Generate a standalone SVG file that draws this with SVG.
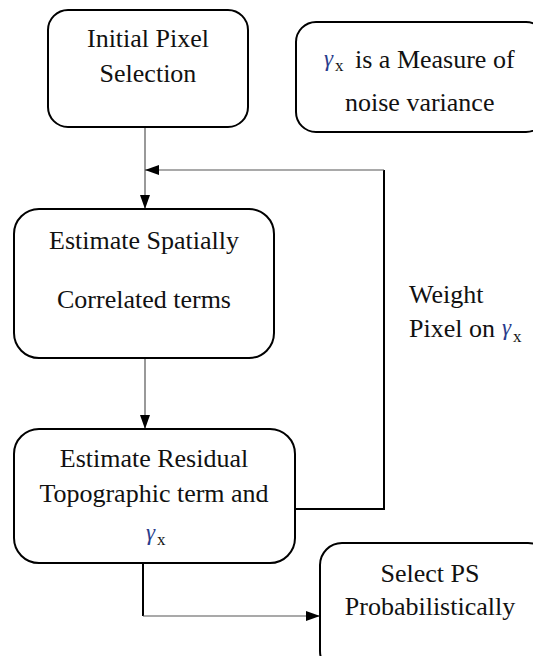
<svg xmlns="http://www.w3.org/2000/svg" width="533" height="656" viewBox="0 0 533 656">
  <style>
    .box { fill: #ffffff; stroke: #000000; stroke-width: 2; }
    .lbl { font-size: 26px; fill: #111111; }
    .mid { text-anchor: middle; }
    .gam { font-style: italic; font-size: 23px; fill: #2a3c8c; }
    .sub { font-size: 17px; fill: #111111; }
    .thin { fill: none; stroke: #555555; stroke-width: 1.2; }
    .thick { fill: none; stroke: #000000; stroke-width: 2; }
  </style>
  <defs>
    <marker id="head" viewBox="0 0 14 10" refX="14" refY="5" markerWidth="14" markerHeight="10" markerUnits="userSpaceOnUse" orient="auto">
      <path d="M0,0 L14,5 L0,10 Z" fill="#000000"/>
    </marker>
  </defs>

  <rect width="533" height="656" fill="#ffffff"/>

  <!-- connectors -->
  <g id="connectors">
    <!-- initial selection down to spatial estimate -->
    <line class="thin" x1="145" y1="127" x2="145" y2="209" marker-end="url(#head)"/>
    <!-- spatial estimate down to residual estimate -->
    <line class="thin" x1="145" y1="358" x2="145" y2="429" marker-end="url(#head)"/>
    <!-- feedback loop: weight pixels and re-estimate -->
    <polyline class="thick" points="295,509 384,509 384,170"/>
    <line class="thin" x1="384" y1="170" x2="145" y2="170" marker-end="url(#head)"/>
    <!-- residual estimate to PS selection -->
    <line class="thick" x1="143" y1="563" x2="143" y2="616"/>
    <line class="thin" x1="143" y1="616" x2="320" y2="616" marker-end="url(#head)"/>
  </g>

  <g font-family="Liberation Serif, Times New Roman, serif">
    <g id="initial-selection">
      <rect class="box" x="48" y="10" width="200" height="117" rx="20" ry="20"/>
      <text class="lbl mid" x="148" y="47">Initial Pixel</text>
      <text class="lbl mid" x="148" y="82">Selection</text>
    </g>

    <g id="noise-note">
      <rect class="box" x="296" y="22" width="250" height="110" rx="20" ry="20"/>
      <text class="gam" x="324" y="66">γ</text>
      <text class="sub" x="335" y="71">x</text>
      <text class="lbl" x="355" y="68">is a Measure of</text>
      <text class="lbl" x="345" y="111">noise variance</text>
    </g>

    <g id="spatial-estimate">
      <rect class="box" x="14" y="209" width="260" height="149" rx="25" ry="25"/>
      <text class="lbl mid" x="144" y="249">Estimate Spatially</text>
      <text class="lbl mid" x="144" y="308">Correlated terms</text>
    </g>

    <g id="weight-label">
      <text class="lbl" x="409" y="303">Weight</text>
      <text class="lbl" x="409" y="337">Pixel on</text>
      <text class="gam" x="502" y="335">γ</text>
      <text class="sub" x="513" y="342">x</text>
    </g>

    <g id="residual-estimate">
      <rect class="box" x="14" y="429" width="281" height="134" rx="25" ry="25"/>
      <text class="lbl mid" x="154" y="467">Estimate Residual</text>
      <text class="lbl mid" x="154" y="502">Topographic term and</text>
      <text class="gam" x="146" y="540">γ</text>
      <text class="sub" x="157" y="545">x</text>
    </g>

    <g id="ps-selection">
      <rect class="box" x="320" y="543" width="230" height="130" rx="22" ry="22"/>
      <text class="lbl mid" x="430" y="582">Select PS</text>
      <text class="lbl mid" x="430" y="615">Probabilistically</text>
    </g>
  </g>
</svg>
